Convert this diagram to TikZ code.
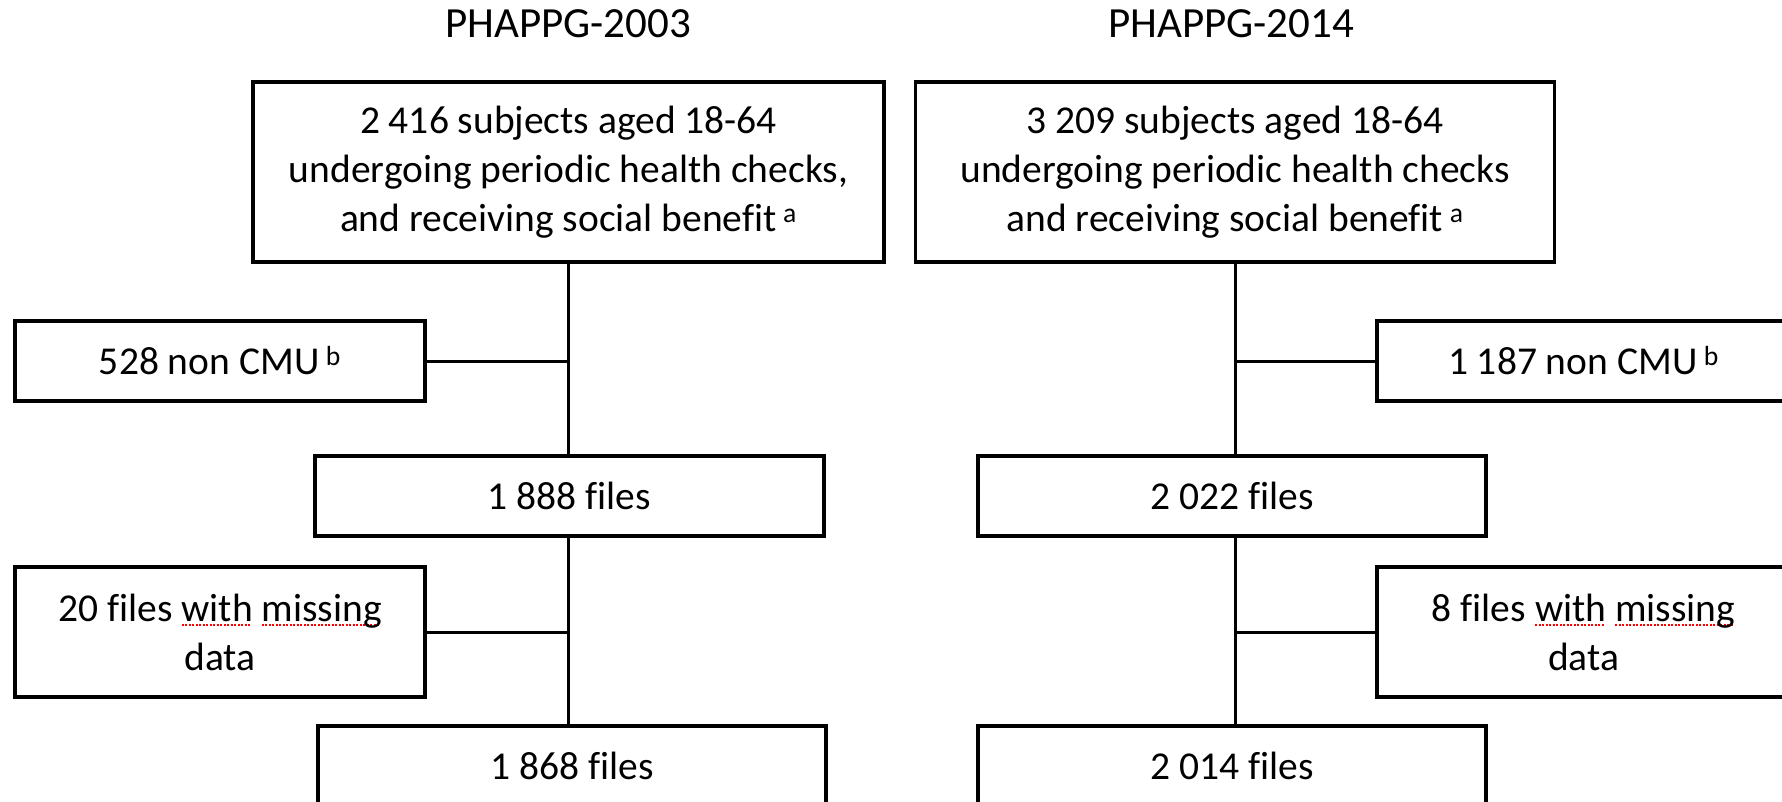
\documentclass[tikz,border=0pt]{standalone}
\usepackage{fontspec}
\setmainfont{Carlito}[Ligatures=NoCommon]
\newcommand\spellmark[1]{\setbox0=\hbox{#1}\rlap{\color{red}\hbox to \wd0{\leaders\hbox{\rule[-5pt]{2pt}{1.8pt}\hspace{1.5pt}}\hfill}}\box0\relax}
\begin{document}
\begin{tikzpicture}[x=1pt,y=-1pt,
  box/.style={draw=black, line width=3.2pt, align=center, inner sep=0pt,
    font=\fontsize{39.5}{49}\selectfont},
  ttl/.style={anchor=base, inner sep=0pt, font=\fontsize{43}{52}\selectfont},
  link/.style={draw=black, line width=3pt}]
\useasboundingbox (0,0) rectangle (1782,802);
\clip (0,0) rectangle (1782,802);

\node[ttl] (t1) at (568,38) {PHAPPG-2003};
\node[ttl] (t2) at (1231,38) {PHAPPG-2014};

\node[box, minimum width=631pt, minimum height=180pt] (s1) at (568.5,172)
  {2 416 subjects aged 18-64\\undergoing periodic health checks,\\and receiving social benefit\,\textsuperscript{a}};
\node[box, minimum width=639pt, minimum height=180pt] (s2) at (1235,172)
  {3 209 subjects aged 18-64\\undergoing periodic health checks\\and receiving social benefit\,\textsuperscript{a}};

\node[box, minimum width=410pt, minimum height=80pt] (c1) at (220,361)
  {528 non CMU\,\textsuperscript{b}};
\node[box, minimum width=413pt, minimum height=80pt] (c2) at (1583.5,361)
  {1 187 non CMU\,\textsuperscript{b}};

\node[box, minimum width=509pt, minimum height=80pt] (f1) at (569.5,496)
  {1 888 files};
\node[box, minimum width=508pt, minimum height=80pt] (f2) at (1232,496)
  {2 022 files};

\node[box, minimum width=410pt, minimum height=130pt] (m1) at (220,632)
  {20 files \spellmark{with} \spellmark{missing}\\data};
\node[box, minimum width=413pt, minimum height=130pt] (m2) at (1583.5,632)
  {8 files \spellmark{with} \spellmark{missing}\\data};

\node[box, minimum width=508pt, minimum height=80pt] (g1) at (572,766)
  {1 868 files};
\node[box, minimum width=508pt, minimum height=80pt] (g2) at (1232,766)
  {2 014 files};

% connectors left
\draw[link] (s1.south) -- (s1.south |- f1.north);
\draw[link] (c1.east) -- (c1.east -| s1.south);
\draw[link] (s1.south |- f1.south) -- (s1.south |- g1.north);
\draw[link] (m1.east) -- (m1.east -| s1.south);
% connectors right
\draw[link] (s2.south) -- (s2.south |- f2.north);
\draw[link] (c2.west) -- (c2.west -| s2.south);
\draw[link] (s2.south |- f2.south) -- (s2.south |- g2.north);
\draw[link] (m2.west) -- (m2.west -| s2.south);
\end{tikzpicture}
\end{document}
